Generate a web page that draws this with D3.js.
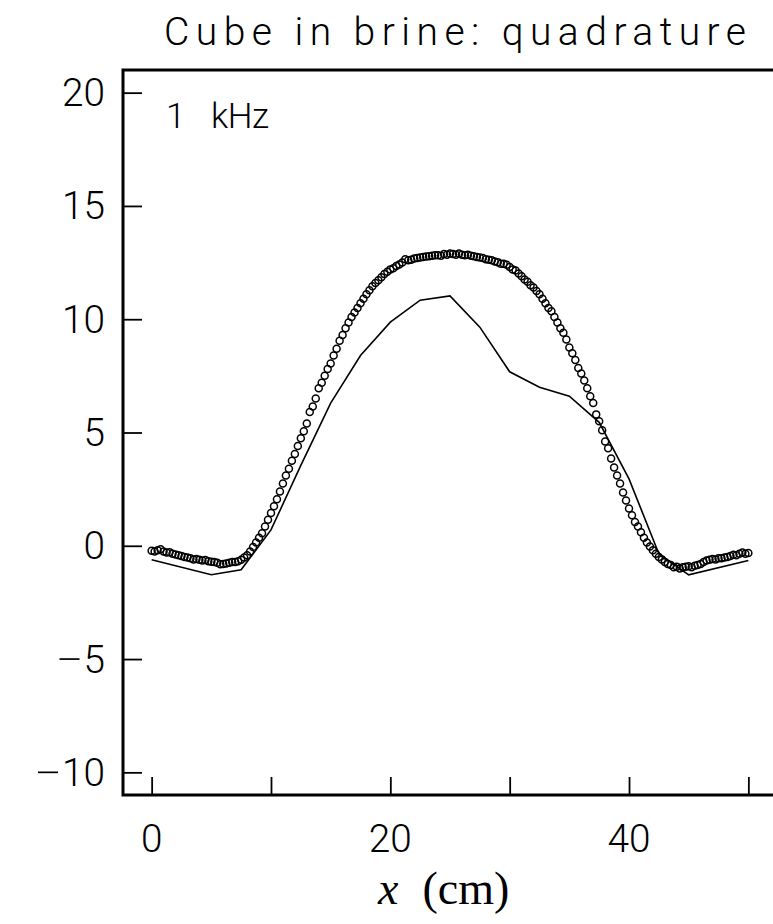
<!DOCTYPE html>
<html>
<head>
<meta charset="utf-8">
<script src="https://cdn.jsdelivr.net/npm/d3@7"></script>
<style>
  html, body { margin: 0; padding: 0; background: #fff; }
  svg { display: block; }
  .sans { font-family: Roboto, "DejaVu Sans", sans-serif; font-weight: 300; }
  .serif { font-family: "Liberation Serif", "DejaVu Serif", serif; }
</style>
</head>
<body>
<script>
// Measured quadrature response (x in cm, response in arbitrary units)
const measured = [
  [0,-0.22],[0.25,-0.25],[0.5,-0.2],[0.75,-0.15],[1,-0.25],[1.25,-0.3],[1.5,-0.28],[1.75,-0.35],
  [2,-0.38],[2.25,-0.42],[2.5,-0.45],[2.75,-0.5],[3,-0.52],[3.25,-0.55],[3.5,-0.6],[3.75,-0.58],
  [4,-0.62],[4.25,-0.65],[4.5,-0.63],[4.75,-0.68],[5,-0.7],[5.25,-0.72],[5.5,-0.75],[5.75,-0.82],
  [6,-0.8],[6.25,-0.78],[6.5,-0.75],[6.75,-0.72],[7,-0.72],[7.25,-0.68],[7.5,-0.62],[7.75,-0.52],
  [8,-0.42],[8.25,-0.25],[8.5,-0.05],[8.75,0.15],[9,0.35],[9.25,0.55],[9.5,0.85],[9.75,1.15],
  [10,1.45],[10.25,1.75],[10.5,2.05],[10.75,2.4],[11,2.75],[11.25,3.1],[11.5,3.4],[11.75,3.75],
  [12,4.05],[12.25,4.4],[12.5,4.75],[12.75,5.05],[13,5.4],[13.25,5.9],[13.5,6.15],[13.75,6.5],
  [14,6.95],[14.25,7.2],[14.5,7.5],[14.75,7.8],[15,8.05],[15.25,8.4],[15.5,8.7],[15.75,9.05],
  [16,9.3],[16.25,9.6],[16.5,9.85],[16.75,10.1],[17,10.3],[17.25,10.5],[17.5,10.7],[17.75,10.9],
  [18,11.1],[18.25,11.28],[18.5,11.45],[18.75,11.6],[19,11.72],[19.25,11.85],[19.5,12.0],[19.75,12.1],
  [20,12.2],[20.25,12.25],[20.5,12.35],[20.75,12.42],[21,12.5],[21.25,12.65],[21.5,12.6],[21.75,12.62],
  [22,12.68],[22.25,12.7],[22.5,12.72],[22.75,12.75],[23,12.77],[23.25,12.78],[23.5,12.8],[23.75,12.82],
  [24,12.82],[24.25,12.8],[24.5,12.88],[24.75,12.85],[25,12.9],[25.25,12.88],[25.5,12.85],[25.75,12.9],
  [26,12.85],[26.25,12.82],[26.5,12.85],[26.75,12.8],[27,12.78],[27.25,12.75],[27.5,12.72],[27.75,12.7],
  [28,12.65],[28.25,12.62],[28.5,12.6],[28.75,12.55],[29,12.52],[29.25,12.45],[29.5,12.45],[29.75,12.4],
  [30,12.3],[30.25,12.2],[30.5,12.15],[30.75,12.02],[31,11.9],[31.25,11.75],[31.5,11.65],[31.75,11.5],
  [32,11.4],[32.25,11.25],[32.5,11.1],[32.75,10.9],[33,10.7],[33.25,10.5],[33.5,10.35],[33.75,10.1],
  [34,9.85],[34.25,9.6],[34.5,9.4],[34.75,9.1],[35,8.75],[35.25,8.5],[35.5,8.2],[35.75,7.85],
  [36,7.6],[36.25,7.3],[36.5,6.95],[36.75,6.6],[37,6.3],[37.25,5.8],[37.5,5.5],[37.75,5.1],
  [38,4.6],[38.25,4.3],[38.5,3.85],[38.75,3.45],[39,3.1],[39.25,2.75],[39.5,2.35],[39.75,2.0],
  [40,1.65],[40.25,1.35],[40.5,1.05],[40.75,0.85],[41,0.6],[41.25,0.35],[41.5,0.15],[41.75,-0.03],
  [42,-0.2],[42.25,-0.35],[42.5,-0.5],[42.75,-0.6],[43,-0.72],[43.25,-0.8],[43.5,-0.85],[43.75,-0.95],
  [44,-0.92],[44.25,-1.0],[44.5,-0.95],[44.75,-0.92],[45,-0.9],[45.25,-0.95],[45.5,-0.88],[45.75,-0.85],
  [46,-0.8],[46.25,-0.72],[46.5,-0.65],[46.75,-0.62],[47,-0.58],[47.25,-0.6],[47.5,-0.55],[47.75,-0.55],
  [48,-0.52],[48.25,-0.5],[48.5,-0.45],[48.75,-0.4],[49,-0.42],[49.25,-0.35],[49.5,-0.3],[49.75,-0.35],
  [50,-0.32]
];

// Model curve vertices
const modelX = [0, 5, 7.5, 10, 12.5, 15, 17.5, 20, 22.5, 25, 27.5, 30, 32.5, 35, 37.5, 40, 42.5, 45, 50];
const modelY = [-0.62, -1.28, -1.06, 0.7, 3.55, 6.3, 8.4, 9.87, 10.84, 11.03, 9.65, 7.68, 7.0, 6.6, 5.45, 2.95, -0.35, -1.28, -0.65];

const xTicks = [0, 10, 20, 30, 40, 50];
const xTickLabels = ["0", "", "20", "", "40", ""];
const yTicks = [-10, -5, 0, 5, 10, 15, 20];
const yTickLabels = ["\u221210", "\u22125", "0", "5", "10", "15", "20"];

const titleText = "Cube in brine: quadrature";
const freqValue = "1";
const freqUnit = "kHz";

const W = 773, H = 924;
const frame = { left: 123, top: 70, right: 777, bottom: 795 };

const svg = d3.select("body").append("svg")
  .attr("width", W).attr("height", H);

const x = d3.scaleLinear().domain([-2.4, 52.4]).range([frame.left, frame.right]);
const y = d3.scaleLinear().domain([-11, 21]).range([frame.bottom, frame.top]);

// Axes with inward ticks
const yAxis = d3.axisLeft(y)
  .tickValues(yTicks)
  .tickSize(-19)
  .tickFormat(() => "");

const xAxis = d3.axisBottom(x)
  .tickValues(xTicks)
  .tickSize(-18)
  .tickFormat(() => "");

const gy = svg.append("g").attr("transform", `translate(${frame.left},0)`).call(yAxis);
const gx = svg.append("g").attr("transform", `translate(0,${frame.bottom})`).call(xAxis);

[gx, gy].forEach(g => {
  g.select(".domain").remove();
  g.selectAll(".tick line").attr("stroke", "#000").attr("stroke-width", 1.8);
  g.selectAll(".tick text").remove();
});

// Tick labels: digits squeezed to a fixed advance, minus drawn long like a stroke font
const digitW = 21.5;
function tickLabel(g, str, xRef, yBase, anchor) {
  const neg = str.startsWith("\u2212");
  const digits = neg ? str.slice(1) : str;
  const dw = digits.length * digitW;
  const total = dw + (neg ? 26 : 0);
  const x0 = anchor === "middle" ? xRef - total / 2 : xRef - total;
  if (neg) {
    g.append("line")
      .attr("x1", x0 + 2).attr("x2", x0 + 22)
      .attr("y1", yBase - 13.5).attr("y2", yBase - 13.5)
      .attr("stroke", "#000").attr("stroke-width", 1.7);
  }
  g.append("text")
    .attr("class", "sans")
    .attr("x", x0 + (neg ? 26 : 0)).attr("y", yBase)
    .attr("textLength", dw).attr("lengthAdjust", "spacingAndGlyphs")
    .style("font-size", "39px")
    .text(digits);
}

const yLabels = svg.append("g");
yTicks.forEach((v, i) => tickLabel(yLabels, yTickLabels[i], 105, y(v) + 13.5, "end"));

const xLabels = svg.append("g");
xTicks.forEach((v, i) => {
  if (xTickLabels[i]) tickLabel(xLabels, xTickLabels[i], x(v), 852, "middle");
});

// Frame
svg.append("rect")
  .attr("x", frame.left).attr("y", frame.top)
  .attr("width", frame.right - frame.left)
  .attr("height", frame.bottom - frame.top)
  .attr("fill", "none").attr("stroke", "#000").attr("stroke-width", 3);

// Model curve
const line = d3.line().x(d => x(d[0])).y(d => y(d[1]));
svg.append("path")
  .datum(modelX.map((v, i) => [v, modelY[i]]))
  .attr("d", line)
  .attr("fill", "none")
  .attr("stroke", "#000")
  .attr("stroke-width", 1.6);

// Measured points
svg.append("g").selectAll("circle")
  .data(measured)
  .join("circle")
  .attr("cx", d => x(d[0]))
  .attr("cy", d => y(d[1]))
  .attr("r", 3.5)
  .attr("fill", "none")
  .attr("stroke", "#000")
  .attr("stroke-width", 1.5);

// Title
svg.append("text")
  .attr("class", "sans")
  .attr("x", 164).attr("y", 45)
  .attr("textLength", 582).attr("lengthAdjust", "spacing")
  .style("font-size", "39px")
  .text(titleText);

// Frequency label
const fl = svg.append("text")
  .attr("class", "sans")
  .attr("x", 166).attr("y", 128)
  .style("font-size", "35px");
fl.append("tspan").text(freqValue);
fl.append("tspan").attr("x", 211)
  .attr("textLength", 58).attr("lengthAdjust", "spacing")
  .text(freqUnit);

// Axis label
const xl = svg.append("text")
  .attr("class", "serif")
  .attr("x", 378).attr("y", 904)
  .style("font-size", "46px");
xl.append("tspan").style("font-style", "italic").text("x");
xl.append("tspan").attr("dx", 24).text("(cm)");
</script>
</body>
</html>
